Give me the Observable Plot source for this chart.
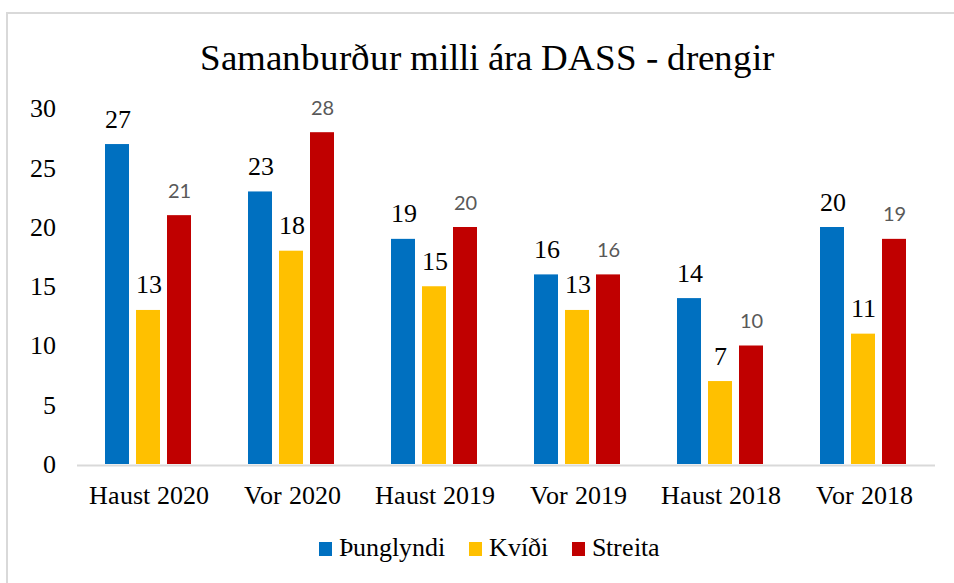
<!DOCTYPE html>
<html>
<head>
<meta charset="utf-8">
<script src="https://cdn.jsdelivr.net/npm/d3@7"></script>
<script src="https://cdn.jsdelivr.net/npm/@observablehq/plot@0.6"></script>
<style>
  @font-face { font-family: "SerifX"; src: local("Liberation Serif"), local("LiberationSerif"), local("LiberationSerif-Regular"), local("Times New Roman"), local("TimesNewRomanPSMT"), local("Tinos"), local("Tinos-Regular"), local("DejaVu Serif"), local("DejaVuSerif"), local("Noto Serif"), local("NotoSerif-Regular"); }
  html, body { margin: 0; padding: 0; background: #fff; }
  body { width: 954px; height: 583px; position: relative; overflow: hidden; font-family: SerifX, 'Liberation Serif', 'DejaVu Serif', serif; }
  #frame { position: absolute; left: 6px; top: 12px; width: 1000px; height: 700px; border-left: 2px solid #d9d9d9; border-top: 2px solid #d9d9d9; box-sizing: border-box; }
  #title { position: absolute; left: 487px; top: 39px; transform: translateX(-50%); white-space: nowrap; font-size: 37px; line-height: 37px; color: #000; }
  #chart { position: absolute; left: 0; top: 0; }
  #legend { position: absolute; left: 319px; top: 535px; display: flex; font-size: 26px; line-height: 26px; color: #000; white-space: nowrap; }
  .item { display: flex; align-items: center; margin-right: 24px; }
  .sw { width: 13px; height: 14px; margin-right: 7px; position: relative; top: 1px; }
  #chart svg text { font-family: SerifX, 'Liberation Serif', 'DejaVu Serif', serif; }
  #chart svg text.red { font-family: Lato, 'Open Sans', sans-serif; }
</style>
</head>
<body>
<div id="frame"></div>
<div id="chart"></div>
<div id="title">Samanburður milli ára DASS - drengir</div>
<div id="legend"></div>
<script>
const categories = ["Haust 2020", "Vor 2020", "Haust 2019", "Vor 2019", "Haust 2018", "Vor 2018"];
const series = ["Þunglyndi", "Kvíði", "Streita"];
const colors = ["#0070C0", "#FFC000", "#C00000"];
const thunglyndi = [27, 23, 19, 16, 14, 20];
const kvidi = [13, 18, 15, 13, 7, 11];
const streita = [21, 28, 20, 16, 10, 19];
const yTicks = [0, 5, 10, 15, 20, 25, 30];

const valuesBySeries = [thunglyndi, kvidi, streita];
const data = [];
categories.forEach((c, i) => {
  series.forEach((s, j) => data.push({ category: c, series: s, value: valuesBySeries[j][i] }));
});

const plot = Plot.plot({
  width: 954,
  height: 520,
  marginTop: 108.5,
  marginBottom: 56,
  marginLeft: 74,
  marginRight: 17,
  style: { fontSize: "26px", color: "#000", background: "transparent" },
  fx: { domain: categories, padding: 0, label: null, tickSize: 0, tickPadding: 21, axis: "bottom" },
  x: { domain: series, axis: null, paddingInner: 0.22, paddingOuter: 0.856 },
  y: { domain: [0, 30], ticks: yTicks, tickSize: 0, tickPadding: 22, label: null, grid: false },
  color: { domain: series, range: colors },
  marks: [
    Plot.barY(data, { fx: "category", x: "series", y: "value", fill: "series" }),
    Plot.ruleY([0], { stroke: "#d9d9d9", strokeWidth: 2, dy: 1 }),
    Plot.text(data.filter(d => d.series !== "Streita"), {
      fx: "category", x: "series", y: "value", text: d => String(d.value),
      lineAnchor: "bottom", dy: -17, fill: "#000", fontSize: 26
    }),
    Plot.text(data.filter(d => d.series === "Streita"), {
      fx: "category", x: "series", y: "value", text: d => String(d.value),
      lineAnchor: "bottom", dy: -18, fill: "#595959", fontSize: 20, className: "red"
    })
  ]
});
document.getElementById("chart").appendChild(plot);
plot.querySelectorAll(".red text").forEach(t => t.classList.add("red"));

const legend = document.getElementById("legend");
series.forEach((s, j) => {
  const item = document.createElement("div");
  item.className = "item";
  const sw = document.createElement("span");
  sw.className = "sw";
  sw.style.background = colors[j];
  const lab = document.createElement("span");
  lab.textContent = s;
  item.appendChild(sw);
  item.appendChild(lab);
  legend.appendChild(item);
});
</script>
</body>
</html>
